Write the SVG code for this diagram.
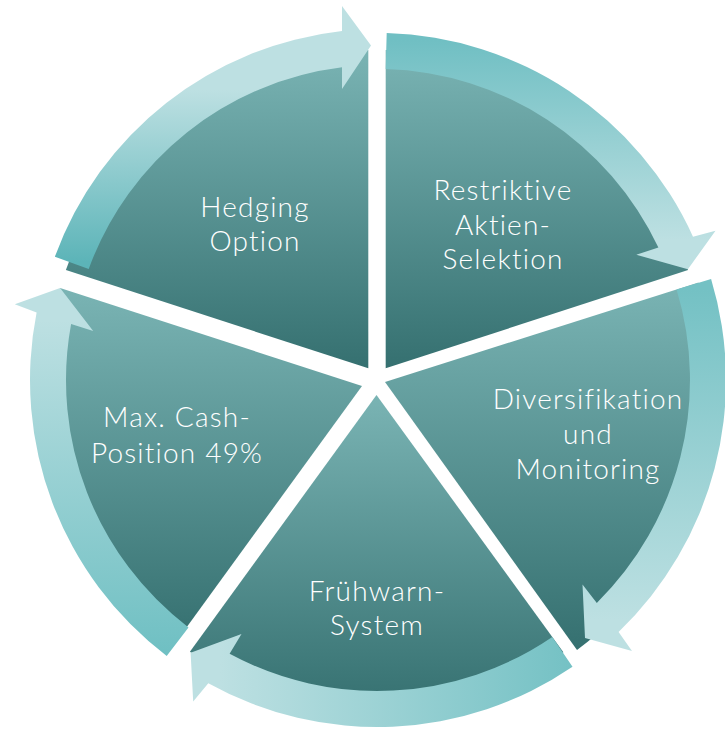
<svg xmlns="http://www.w3.org/2000/svg" width="725" height="730" viewBox="0 0 725 730">
<defs>
<linearGradient id="seg" x1="0" y1="0" x2="0" y2="1">
<stop offset="0" stop-color="#7ab4b4"/>
<stop offset="1" stop-color="#357070"/>
</linearGradient>
<linearGradient id="ar1" gradientUnits="userSpaceOnUse" x1="0" y1="262" x2="0" y2="90">
<stop offset="0" stop-color="#5cb4b8"/><stop offset="1" stop-color="#bde0e2"/>
</linearGradient>
<linearGradient id="ar2" gradientUnits="userSpaceOnUse" x1="0" y1="40" x2="0" y2="240">
<stop offset="0" stop-color="#70bfc3"/><stop offset="1" stop-color="#bde0e2"/>
</linearGradient>
<linearGradient id="ar3" gradientUnits="userSpaceOnUse" x1="0" y1="290" x2="0" y2="620">
<stop offset="0" stop-color="#74c1c4"/><stop offset="1" stop-color="#bde0e2"/>
</linearGradient>
<linearGradient id="ar4" gradientUnits="userSpaceOnUse" x1="575" y1="0" x2="220" y2="0">
<stop offset="0" stop-color="#74c1c4"/><stop offset="1" stop-color="#bde0e2"/>
</linearGradient>
<linearGradient id="ar5" gradientUnits="userSpaceOnUse" x1="0" y1="650" x2="0" y2="320">
<stop offset="0" stop-color="#70c0c3"/><stop offset="1" stop-color="#bde0e2"/>
</linearGradient>
</defs>
<style>
.seg{fill:url(#seg)}
.lbl{fill:#ffffff;font-family:Lato,"Liberation Sans",Arial,sans-serif;font-weight:300;font-size:28px;letter-spacing:1.2px;font-variant-ligatures:none;text-anchor:middle}
</style>
<rect width="725" height="730" fill="#ffffff"/>
<g id="node-hedging">
<path class="seg" d="M368.3,368.3 L65.9,270 A330,330 0 0 1 368.3,50.1 Z"/>
<text class="lbl" x="255" y="217">Hedging</text>
<text class="lbl" x="255" y="251">Option</text>
</g>
<g id="node-restriktive">
<path class="seg" d="M385.7,368.3 L385.7,50.1 A330,330 0 0 1 688.1,270 Z"/>
<text class="lbl" x="503" y="200">Restriktive</text>
<text class="lbl" x="503" y="234.5">Aktien-</text>
<text class="lbl" x="503" y="269">Selektion</text>
</g>
<g id="node-diversifikation">
<path class="seg" d="M385,382 L698.5,282.5 A336,336 0 0 1 577,650 Z"/>
<text class="lbl" x="588" y="408.5">Diversifikation</text>
<text class="lbl" x="588" y="443.5">und</text>
<text class="lbl" x="588" y="478.5">Monitoring</text>
</g>
<g id="node-fruehwarn">
<path class="seg" d="M376.5,395 L563.4,652.3 A330,330 0 0 1 189.9,651.8 Z"/>
<text class="lbl" x="377" y="601">Frühwarn-</text>
<text class="lbl" x="377" y="635">System</text>
</g>
<g id="node-cash">
<path class="seg" d="M362,386 L176.1,641.8 A330,330 0 0 1 60.1,287.9 Z"/>
<text class="lbl" x="177" y="427">Max. Cash-</text>
<text class="lbl" x="177" y="462.5">Position 49%</text>
</g>
<g id="connectors">
<path fill="url(#ar1)" d="M54.9,256.7 A346,346 0 0 1 342,31.1 L342,6 L371,45.5 L342,89 L342,67.3 A310,310 0 0 0 88.7,269 Z"/>
<path fill="url(#ar2)" d="M386.7,33.1 A347,347 0 0 1 693,236.7 L715.5,230.7 L687.9,269.3 L636.3,254.7 L658.4,247.6 A311,311 0 0 0 385.7,69.1 Z"/>
<path fill="url(#ar3)" d="M711.1,279.1 A349,349 0 0 1 618.6,631.9 L632,651 L585,638 L582.5,584.5 L596.8,602.9 A313,313 0 0 0 676.6,289.5 Z"/>
<path fill="url(#ar4)" d="M572.5,666.7 A347,347 0 0 1 208.3,683.2 L193.2,701.6 L190.6,652.7 L241.5,634 L229.6,653.8 A311,311 0 0 0 552.3,636.9 Z"/>
<path fill="url(#ar5)" d="M166.7,656 A347,347 0 0 1 36.6,312.6 L14.8,304.3 L60.1,287.9 L93.2,331 L71.1,323.9 A311,311 0 0 0 188.5,627.4 Z"/>
</g>
</svg>
